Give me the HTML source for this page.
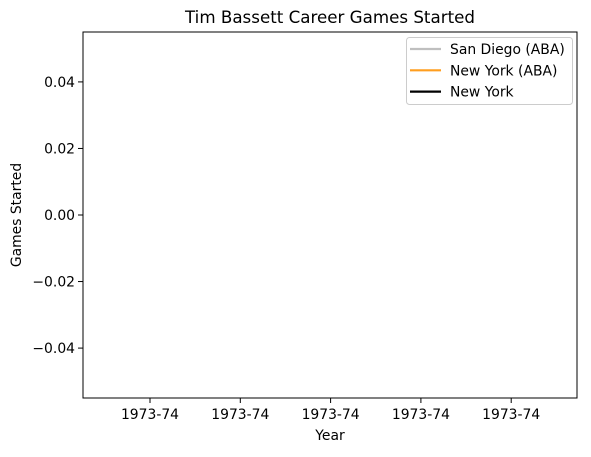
<!DOCTYPE html>
<html><head><meta charset="utf-8"><style>
body{margin:0;background:#fff;font-family:"DejaVu Sans","Liberation Sans",sans-serif;}
svg text{font-family:"DejaVu Sans","Liberation Sans",sans-serif;}
</style></head><body>
<svg id="chart" width="591" height="453" xmlns="http://www.w3.org/2000/svg">
<rect width="591" height="453" fill="#fff"/>
<g id="plot"></g>
</svg>
<script>
const categories = ["1973-74","1973-74","1973-74","1973-74","1973-74"];
const seriesNames = ["San Diego (ABA)","New York (ABA)","New York"];
const seriesColors = ["#bfbfbf","#ff9e1f","#000000"];
const sanDiegoValues = [];
const newYorkAbaValues = [];
const newYorkValues = [];
const yTicks = [-0.04,-0.02,0.00,0.02,0.04];
const yTickLabels = ["\u22120.04","\u22120.02","0.00","0.02","0.04"];

const L=83,R=577,T=32,B=398;
const yMin=-0.055,yMax=0.055;
const y=v=>B-(v-yMin)/(yMax-yMin)*(B-T);
const x=i=>150+i*90.3;
const ns="http://www.w3.org/2000/svg";
const g=document.getElementById('plot');
function el(tag,attrs,text){const e=document.createElementNS(ns,tag);for(const k in attrs)e.setAttribute(k,attrs[k]);if(text!==undefined)e.textContent=text;g.appendChild(e);return e;}

[sanDiegoValues,newYorkAbaValues,newYorkValues].forEach((vals,s)=>{
  if(vals.length){const p=el('polyline',{points:vals.map((v,i)=>x(i)+','+y(v)).join(' '),fill:'none',stroke:seriesColors[s],'stroke-width':2});
  
  }
});

const frame=el('rect',{x:L,y:T,width:R-L,height:B-T,fill:'none',stroke:'#000','stroke-width':1});



yTicks.forEach((t,i)=>{
  const yy=y(t);
  const tk=el('line',{x1:L-5,x2:L,y1:yy,y2:yy,stroke:'#000'});
  
  
  const lb=el('text',{x:L-8,y:yy+5,'text-anchor':'end','font-size':13.9},yTickLabels[i]);
  
  
});
categories.forEach((c,i)=>{
  const xx=x(i);
  const tk=el('line',{x1:xx,x2:xx,y1:B,y2:B+5,stroke:'#000'});
  
  
  const lb=el('text',{x:xx,y:B+21,'text-anchor':'middle','font-size':13.9},c);
  
  
});
const title=el('text',{x:(L+R)/2,y:23,'text-anchor':'middle','font-size':16.7},'Tim Bassett Career Games Started');


const xt=el('text',{x:(L+R)/2,y:440,'text-anchor':'middle','font-size':13.9},'Year');


const yt=el('text',{x:21,y:(T+B)/2,'text-anchor':'middle','font-size':13.9,transform:'rotate(-90 21 '+((T+B)/2)+')'},'Games Started');



const lg=el('rect',{x:406.5,y:37.5,width:166,height:67,rx:3,fill:'#fff','fill-opacity':0.8,stroke:'#ccc'});


seriesNames.forEach((n,i)=>{
  const yy=49+i*21.3;
  const ln=el('line',{x1:410,x2:441,y1:yy,y2:yy,stroke:seriesColors[i],'stroke-width':2.2});
  
  
  const t=el('text',{x:450,y:yy+5,'font-size':13.9},n);
  
  
});
</script>
</body></html>
